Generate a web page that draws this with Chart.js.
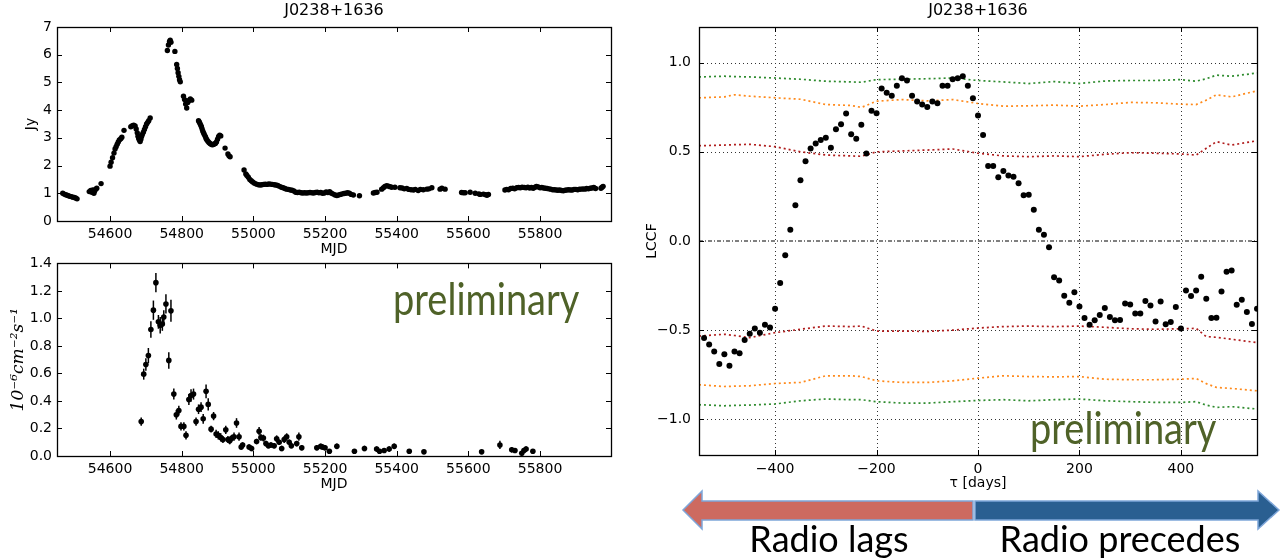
<!DOCTYPE html>
<html>
<head>
<meta charset="utf-8">
<script src="https://cdn.jsdelivr.net/npm/chart.js@4.4.0/dist/chart.umd.min.js"></script>
<style>
  body { margin: 0; width: 1281px; height: 559px; position: relative; background: #fff; overflow: hidden; }
  canvas { position: absolute; }
  .prelim { position: absolute; font-family: Lato, "Open Sans", sans-serif; font-size: 38px; line-height: 38px; color: #4f6228; white-space: nowrap; transform: scale(1, 1.15); transform-origin: left top; }
  .radio { position: absolute; font-family: Lato, "Open Sans", sans-serif; font-size: 36px; line-height: 36px; color: #000; text-align: center; white-space: nowrap; }
</style>
</head>
<body>
<canvas id="radioChart" width="640" height="258" style="left:0;top:0"></canvas>
<canvas id="gammaChart" width="640" height="250" style="left:0;top:250px"></canvas>
<canvas id="lccfChart" width="641" height="495" style="left:640px;top:0"></canvas>

<svg width="1281" height="559" style="position:absolute;left:0;top:0">
  <polygon points="683,510 702,491 702,501 973,501 973,520 702,520 702,529" fill="#cd6a60" stroke="#7ea6d9" stroke-width="1.5"/>
  <polygon points="975,501 1258,501 1258,491 1279,510 1258,529 1258,520 975,520" fill="#2a5f91" stroke="#7ea6d9" stroke-width="1.5"/>
</svg>
<div class="radio" style="left:700px;top:520px;width:258px">Radio lags</div>
<div class="radio" style="left:980px;top:520px;width:280px">Radio precedes</div>
<div class="prelim" style="left:393px;top:276px">preliminary</div>
<div class="prelim" style="left:1030px;top:405px">preliminary</div>

<script>
  // radio light curve (Jy)
  var radioMjd = [54468, 54472, 54476, 54480, 54484, 54488, 54492, 54496, 54500, 54504, 54508,
    54542, 54546, 54549, 54552, 54555, 54557, 54560, 54563, 54575,
    54600, 54603, 54607, 54611, 54614, 54617, 54620, 54623, 54626, 54630, 54633, 54639,
    54658, 54662, 54666, 54670, 54673, 54676, 54678, 54680, 54682, 54684, 54686, 54688, 54690, 54693, 54696, 54699, 54702, 54705, 54708, 54712,
    54760, 54763, 54766, 54768, 54770, 54781, 54786, 54788, 54790, 54792, 54794, 54796,
    54805, 54808, 54811, 54814, 54817, 54820, 54824, 54828,
    54847, 54849, 54851, 54853, 54855, 54857, 54859, 54861, 54863, 54866, 54868, 54870, 54873, 54876, 54879, 54882, 54885, 54888, 54891, 54894, 54897, 54900, 54903, 54906, 54909,
    54921, 54929, 54932, 54935,
    54974, 54979, 54982, 54986, 54990, 54994, 54998, 55003, 55009, 55014, 55019, 55024, 55028, 55033, 55038, 55043, 55048, 55053, 55058, 55063, 55068, 55073, 55078, 55083, 55088, 55093, 55098, 55103, 55108, 55113, 55118, 55123, 55128, 55133, 55138, 55143, 55148, 55153, 55158, 55163, 55168, 55173, 55178, 55183, 55188, 55193, 55198, 55203, 55208, 55213, 55218, 55223, 55228, 55233, 55238, 55243, 55248, 55253, 55258, 55263, 55268, 55273, 55279, 55296,
    55335, 55340, 55345, 55358, 55363, 55367, 55372, 55377, 55381, 55386, 55395, 55409, 55415, 55421, 55428, 55434, 55440, 55447, 55452, 55460, 55466, 55474, 55484, 55490, 55498, 55521, 55526, 55535,
    55581, 55586, 55591, 55605, 55619, 55629, 55633, 55642, 55648, 55652, 55656,
    55702, 55707, 55712, 55718, 55724, 55729, 55735, 55740, 55745, 55750, 55756, 55761, 55766, 55771, 55776, 55781, 55786, 55790, 55795, 55800, 55805, 55810, 55815, 55820, 55825, 55830, 55835, 55840, 55845, 55850, 55855, 55860, 55865, 55870, 55875, 55880, 55885, 55890, 55895, 55900, 55905, 55910, 55915, 55920, 55925, 55930, 55935, 55940, 55945, 55950, 55955, 55970, 55973, 55976];
  var radioJy = [1.00, 0.97, 0.95, 0.93, 0.91, 0.89, 0.88, 0.86, 0.85, 0.83, 0.80,
    1.06, 1.10, 1.04, 1.12, 1.00, 1.08, 1.15, 1.18, 1.35,
    1.98, 2.12, 2.28, 2.45, 2.60, 2.68, 2.77, 2.85, 2.92, 2.97, 3.02, 3.27,
    3.40, 3.44, 3.46, 3.43, 3.32, 3.18, 3.06, 2.98, 2.92, 2.87, 2.95, 3.05, 3.12, 3.20, 3.30, 3.40, 3.50, 3.56, 3.62, 3.72,
    6.15, 6.35, 6.48, 6.52, 6.45, 6.12, 5.65, 5.50, 5.35, 5.22, 5.10, 5.02,
    4.50, 4.38, 4.22, 4.08, 4.28, 4.35, 4.40, 4.36,
    3.62, 3.57, 3.52, 3.46, 3.40, 3.32, 3.24, 3.18, 3.12, 3.05, 2.98, 2.93, 2.88, 2.83, 2.80, 2.77, 2.75, 2.76, 2.78, 2.80, 2.85, 2.95, 3.05, 3.10, 3.07,
    2.63, 2.42, 2.35, 2.32,
    1.84, 1.70, 1.64, 1.58, 1.50, 1.45, 1.41, 1.36, 1.33, 1.31, 1.30, 1.31, 1.32, 1.33, 1.32, 1.34, 1.33, 1.32, 1.31, 1.30, 1.28, 1.25, 1.22, 1.20, 1.17, 1.15, 1.14, 1.12, 1.11, 1.08, 1.04, 1.03, 1.04, 1.02, 1.01, 1.02, 1.01, 1.02, 1.03, 1.02, 1.01, 1.03, 1.04, 1.02, 1.03, 1.00, 1.01, 1.05, 1.03, 1.06, 1.00, 0.97, 0.94, 0.92, 0.94, 0.96, 0.98, 0.99, 1.00, 1.02, 1.00, 0.96, 0.94, 0.91,
    1.01, 1.03, 1.04, 1.15, 1.20, 1.25, 1.27, 1.26, 1.24, 1.22, 1.22, 1.20, 1.19, 1.16, 1.17, 1.14, 1.13, 1.12, 1.14, 1.10, 1.14, 1.13, 1.15, 1.16, 1.20, 1.15, 1.18, 1.15,
    1.03, 1.02, 1.02, 1.04, 1.00, 0.98, 0.96, 0.97, 0.95, 0.93, 0.96,
    1.12, 1.14, 1.13, 1.17, 1.18, 1.16, 1.20, 1.21, 1.20, 1.22, 1.21, 1.20, 1.22, 1.19, 1.21, 1.18, 1.22, 1.25, 1.23, 1.20, 1.21, 1.19, 1.18, 1.17, 1.16, 1.15, 1.13, 1.13, 1.12, 1.11, 1.12, 1.10, 1.09, 1.11, 1.12, 1.13, 1.12, 1.12, 1.14, 1.14, 1.13, 1.15, 1.15, 1.16, 1.15, 1.17, 1.16, 1.18, 1.19, 1.21, 1.17, 1.18, 1.22, 1.25];

  // gamma-ray flux (1e-6 cm^-2 s^-1)
  var gammaMjd = [54687, 54694, 54700, 54707, 54714, 54721, 54728, 54735, 54740, 54746, 54750, 54756, 54764, 54770,
    54778, 54785, 54792, 54798, 54806, 54812, 54820, 54826, 54833, 54840, 54847, 54854, 54860, 54868, 54874,
    54882, 54889, 54896, 54902, 54909, 54915, 54923, 54929, 54934, 54940, 54946, 54953, 54960, 54966, 54970,
    54988, 54995, 55009, 55016, 55021, 55028, 55035, 55042, 55049, 55058, 55065, 55072, 55079, 55086, 55093,
    55100, 55106, 55121, 55127, 55135, 55177, 55188, 55193, 55200, 55212, 55233, 55282, 55310, 55344, 55352,
    55365, 55379, 55393, 55435, 55476, 55637, 55688, 55721, 55730, 55749, 55755, 55761, 55780];
  var gammaFlux = [0.25, 0.595, 0.665, 0.73, 0.92, 1.06, 1.26, 0.975, 0.95, 0.96, 1.01, 1.105, 0.695, 1.055,
    0.45, 0.30, 0.33, 0.215, 0.215, 0.15, 0.41, 0.44, 0.45, 0.25, 0.34, 0.355, 0.27, 0.47, 0.375,
    0.195, 0.29, 0.16, 0.15, 0.135, 0.12, 0.19, 0.12, 0.11, 0.13, 0.14, 0.24, 0.14, 0.065, 0.08,
    0.065, 0.055, 0.105, 0.18, 0.135, 0.13, 0.09, 0.075, 0.08, 0.075, 0.125, 0.10, 0.055, 0.12, 0.14,
    0.10, 0.075, 0.09, 0.14, 0.06, 0.06, 0.07, 0.065, 0.06, 0.035, 0.07, 0.035, 0.055, 0.05, 0.035,
    0.04, 0.05, 0.07, 0.035, 0.03, 0.03, 0.08, 0.045, 0.04, 0.02, 0.04, 0.05, 0.035];
  var gammaErr = [0.03, 0.04, 0.045, 0.055, 0.06, 0.07, 0.07, 0.05, 0.06, 0.05, 0.05, 0.07, 0.06, 0.08,
    0.04, 0.035, 0.035, 0.03, 0.03, 0.03, 0.04, 0.045, 0.04, 0.03, 0.035, 0.035, 0.035, 0.05, 0.045,
    0.025, 0.03, 0.03, 0.03, 0.03, 0.025, 0.03, 0.025, 0.025, 0.025, 0.03, 0.035, 0.03, 0.02, 0.02,
    0.02, 0.02, 0.02, 0.03, 0.025, 0.025, 0.02, 0.02, 0.02, 0.02, 0.025, 0.02, 0.02, 0.025, 0.025,
    0.02, 0.02, 0.02, 0.03, 0.02, 0.02, 0.02, 0.02, 0.02, 0.015, 0.02, 0.015, 0.02, 0.02, 0.015,
    0.015, 0.02, 0.02, 0.015, 0.015, 0.015, 0.03, 0.02, 0.015, 0.015, 0.015, 0.02, 0.015];

  // local cross-correlation
  var lccfTau = [-540, -530, -520, -510, -500, -490, -480, -470, -460, -450, -440, -430, -420, -410, -400, -390, -380, -370, -360, -350,
    -340, -330, -320, -310, -300, -290, -280, -270, -260, -250, -240, -230, -220, -210, -200, -190, -180, -170, -160, -150,
    -140, -130, -120, -110, -100, -90, -80, -70, -60, -50, -40, -30, -20, -10, 0, 10, 20, 30, 40, 50,
    60, 70, 80, 90, 100, 110, 120, 130, 140, 150, 160, 170, 180, 190, 200, 210, 220, 230, 240, 250,
    260, 270, 280, 290, 300, 310, 320, 330, 340, 350, 360, 370, 380, 390, 400, 410, 420, 430, 440, 450,
    460, 470, 480, 490, 500, 510, 520, 530, 540, 550];
  var lccfVal = [-0.544, -0.58, -0.62, -0.69, -0.635, -0.70, -0.62, -0.63, -0.555, -0.52, -0.49, -0.515, -0.47, -0.485, -0.38, -0.235, -0.08, 0.063, 0.20, 0.34,
    0.447, 0.518, 0.547, 0.566, 0.579, 0.523, 0.626, 0.655, 0.715, 0.598, 0.573, 0.652, 0.49, 0.73, 0.717, 0.855, 0.832, 0.814, 0.87, 0.912,
    0.90, 0.814, 0.782, 0.765, 0.752, 0.782, 0.773, 0.87, 0.87, 0.907, 0.912, 0.924, 0.871, 0.80, 0.704, 0.594, 0.42, 0.42, 0.357, 0.393,
    0.367, 0.36, 0.324, 0.257, 0.26, 0.175, 0.063, 0.035, -0.035, -0.203, -0.222, -0.307, -0.346, -0.287, -0.367, -0.432, -0.469, -0.445, -0.415, -0.376,
    -0.426, -0.445, -0.443, -0.35, -0.356, -0.406, -0.406, -0.337, -0.361, -0.452, -0.339, -0.467, -0.454, -0.37, -0.49, -0.277, -0.309, -0.277, -0.201, -0.324,
    -0.432, -0.43, -0.283, -0.173, -0.166, -0.357, -0.33, -0.398, -0.466, -0.38];

  // significance levels
  var sigTau = [-550, -500, -480, -450, -400, -350, -300, -250, -230, -200, -150, -100, -50, 0, 50, 100, 150, 200, 250, 300, 350, 400, 430, 450, 470, 500, 550];
  var greenUp = [0.92, 0.924, 0.922, 0.92, 0.914, 0.907, 0.896, 0.892, 0.89, 0.905, 0.907, 0.91, 0.914, 0.90, 0.892, 0.883, 0.894, 0.883, 0.897, 0.90, 0.90, 0.905, 0.896, 0.91, 0.93, 0.924, 0.942];
  var orangeUp = [0.803, 0.808, 0.82, 0.812, 0.803, 0.795, 0.765, 0.76, 0.749, 0.784, 0.793, 0.786, 0.793, 0.771, 0.756, 0.758, 0.762, 0.756, 0.765, 0.777, 0.775, 0.767, 0.765, 0.79, 0.82, 0.808, 0.842];
  var redUp = [0.534, 0.538, 0.54, 0.542, 0.529, 0.50, 0.482, 0.477, 0.475, 0.50, 0.505, 0.51, 0.516, 0.492, 0.477, 0.473, 0.477, 0.473, 0.486, 0.495, 0.492, 0.488, 0.482, 0.52, 0.557, 0.538, 0.562];
  var redLow = [-0.533, -0.523, -0.53, -0.542, -0.514, -0.495, -0.477, -0.48, -0.477, -0.505, -0.505, -0.507, -0.50, -0.488, -0.48, -0.477, -0.48, -0.477, -0.484, -0.492, -0.495, -0.492, -0.49, -0.536, -0.54, -0.551, -0.57];
  var orangeLow = [-0.806, -0.816, -0.814, -0.812, -0.799, -0.793, -0.756, -0.756, -0.76, -0.784, -0.793, -0.793, -0.784, -0.769, -0.756, -0.76, -0.762, -0.76, -0.775, -0.778, -0.778, -0.775, -0.771, -0.80, -0.821, -0.827, -0.84];
  var greenLow = [-0.918, -0.924, -0.922, -0.92, -0.914, -0.896, -0.886, -0.89, -0.89, -0.901, -0.909, -0.909, -0.901, -0.894, -0.89, -0.896, -0.89, -0.886, -0.896, -0.901, -0.905, -0.905, -0.901, -0.92, -0.933, -0.929, -0.942];

  // tick labels
  var mjdTicks = [54600, 54800, 55000, 55200, 55400, 55600, 55800];
  var jyTicks = [0, 1, 2, 3, 4, 5, 6, 7];
  var fluxTicks = [0, 0.2, 0.4, 0.6, 0.8, 1.0, 1.2, 1.4];
  var tauTicks = [-400, -200, 0, 200, 400];
  var lccfTicks = [-1.0, -0.5, 0.0, 0.5, 1.0];

  Chart.defaults.font.family = "'DejaVu Sans', sans-serif";
  Chart.defaults.font.size = 14;
  Chart.defaults.color = "#000";
  Chart.defaults.animation = false;

  function pts(xs, ys) {
    return xs.map(function (x, i) { return { x: x, y: ys[i] }; });
  }
  function fixTicks(list) {
    return function (scale) { scale.ticks = list.map(function (v) { return { value: v }; }); };
  }
  function minus(s) { return String(s).replace("-", "\u2212"); }

  // matplotlib-like frame with inward ticks, optional dotted grid
  var frame = {
    id: "frame",
    beforeDatasetsDraw: function (chart, args, opts) {
      if (!opts.grid) return;
      var ctx = chart.ctx, a = chart.chartArea, x = chart.scales.x, y = chart.scales.y;
      ctx.save();
      ctx.strokeStyle = "#333";
      ctx.lineWidth = 1;
      ctx.setLineDash([1, 3]);
      x.ticks.forEach(function (t) {
        var px = Math.round(x.getPixelForValue(t.value)) + 0.5;
        ctx.beginPath(); ctx.moveTo(px, a.top); ctx.lineTo(px, a.bottom); ctx.stroke();
      });
      y.ticks.forEach(function (t) {
        if (t.value === 0) return;
        var py = Math.round(y.getPixelForValue(t.value)) + 0.5;
        ctx.beginPath(); ctx.moveTo(a.left, py); ctx.lineTo(a.right, py); ctx.stroke();
      });
      ctx.restore();
    },
    afterDatasetsDraw: function (chart) {
      var ctx = chart.ctx, a = chart.chartArea, x = chart.scales.x, y = chart.scales.y;
      ctx.save();
      ctx.strokeStyle = "#000";
      ctx.lineWidth = 1;
      ctx.beginPath();
      x.ticks.forEach(function (t) {
        var px = Math.round(x.getPixelForValue(t.value)) + 0.5;
        ctx.moveTo(px, a.bottom); ctx.lineTo(px, a.bottom - 5);
        ctx.moveTo(px, a.top); ctx.lineTo(px, a.top + 5);
      });
      y.ticks.forEach(function (t) {
        var py = Math.round(y.getPixelForValue(t.value)) + 0.5;
        ctx.moveTo(a.left, py); ctx.lineTo(a.left + 5, py);
        ctx.moveTo(a.right, py); ctx.lineTo(a.right - 5, py);
      });
      ctx.stroke();
      ctx.lineWidth = 1.3;
      ctx.strokeRect(Math.round(a.left) + 0.5, Math.round(a.top) + 0.5, Math.round(a.width), Math.round(a.height));
      ctx.restore();
    }
  };

  var errorBars = {
    id: "errorBars",
    beforeDatasetsDraw: function (chart, args, opts) {
      if (!opts.err) return;
      var ctx = chart.ctx, x = chart.scales.x, y = chart.scales.y;
      ctx.save();
      ctx.strokeStyle = "#000";
      ctx.lineWidth = 1.5;
      opts.err.forEach(function (e, i) {
        var px = x.getPixelForValue(gammaMjd[i]);
        ctx.beginPath();
        ctx.moveTo(px, y.getPixelForValue(gammaFlux[i] - e));
        ctx.lineTo(px, y.getPixelForValue(gammaFlux[i] + e));
        ctx.stroke();
      });
      ctx.restore();
    }
  };

  var mjdAxis = function (height, pad) {
    return {
      type: "linear", min: 54452, max: 55998,
      afterBuildTicks: fixTicks(mjdTicks),
      afterFit: function (s) { s.height = height; },
      grid: { display: false, drawTicks: false }, border: { display: false },
      ticks: { padding: 5, maxRotation: 0, callback: function (v) { return String(v); } },
      title: { display: true, text: "MJD", padding: { top: 0, bottom: pad } }
    };
  };

  new Chart(document.getElementById("radioChart"), {
    type: "scatter",
    data: { datasets: [{ data: pts(radioMjd, radioJy), backgroundColor: "#000", borderWidth: 0, pointRadius: 2.7 }] },
    options: {
      responsive: false,
      layout: { padding: { left: 0, right: 29, top: 0, bottom: 0 } },
      plugins: {
        legend: { display: false }, tooltip: { enabled: false },
        title: { display: true, fullSize: false, text: "J0238+1636", font: { size: 16, weight: "normal" }, padding: { top: 1.4, bottom: 6.4 } }
      },
      scales: {
        x: mjdAxis(37, 0),
        y: {
          min: 0, max: 7,
          afterBuildTicks: fixTicks(jyTicks),
          afterFit: function (s) { s.width = 57; },
          grid: { display: false, drawTicks: false }, border: { display: false },
          ticks: { padding: 5 },
          title: { display: true, text: "Jy", padding: { top: 23, bottom: 0 } }
        }
      }
    },
    plugins: [frame]
  });

  new Chart(document.getElementById("gammaChart"), {
    type: "scatter",
    data: { datasets: [{ data: pts(gammaMjd, gammaFlux), backgroundColor: "#000", borderWidth: 0, pointRadius: 2.8 }] },
    options: {
      responsive: false,
      layout: { padding: { left: 0, right: 29, top: 11, bottom: 0 } },
      plugins: {
        legend: { display: false }, tooltip: { enabled: false },
        errorBars: { err: gammaErr }
      },
      scales: {
        x: mjdAxis(44, 7),
        y: {
          min: 0, max: 1.4,
          afterBuildTicks: fixTicks(fluxTicks),
          afterFit: function (s) { s.width = 57; },
          grid: { display: false, drawTicks: false }, border: { display: false },
          ticks: { padding: 5, callback: function (v) { return v.toFixed(1); } },
          title: {
            display: true, text: "10\u207B\u2076cm\u207B\u00B2s\u207B\u00B9",
            font: { family: "'DejaVu Serif', serif", style: "italic", size: 17 },
            padding: { top: 8, bottom: 0 }
          }
        }
      }
    },
    plugins: [frame, errorBars]
  });

  function sigLine(ys, color) {
    return {
      data: pts(sigTau, ys), showLine: true, borderColor: color, borderWidth: 1.7,
      borderDash: [2, 3], pointRadius: 0, tension: 0
    };
  }

  new Chart(document.getElementById("lccfChart"), {
    type: "scatter",
    data: {
      datasets: [
        { data: pts(lccfTau, lccfVal), backgroundColor: "#000", borderWidth: 0, pointRadius: 3 },
        sigLine(greenUp, "#2e8b2e"),
        sigLine(orangeUp, "#ff8a1c"),
        sigLine(redUp, "#b01c1c"),
        sigLine(redLow, "#b01c1c"),
        sigLine(orangeLow, "#ff8a1c"),
        sigLine(greenLow, "#2e8b2e"),
        { data: pts([-550, 550], [0, 0]), showLine: true, borderColor: "#000", borderWidth: 1, borderDash: [4, 2, 1, 2], pointRadius: 0 }
      ]
    },
    options: {
      responsive: false,
      layout: { padding: { left: 0, right: 24, top: 0, bottom: 0 } },
      plugins: {
        legend: { display: false }, tooltip: { enabled: false },
        title: { display: true, fullSize: false, text: "J0238+1636", font: { size: 16, weight: "normal" }, padding: { top: 1.4, bottom: 6.4 } },
        frame: { grid: true }
      },
      scales: {
        x: {
          type: "linear", min: -550, max: 550,
          afterBuildTicks: fixTicks(tauTicks),
          afterFit: function (s) { s.height = 40; },
          grid: { display: false, drawTicks: false }, border: { display: false },
          ticks: { padding: 6, maxRotation: 0, callback: function (v) { return minus(v); } },
          title: { display: true, text: "\u03C4 [days]", padding: { top: 0, bottom: 3 } }
        },
        y: {
          min: -1.2, max: 1.2,
          afterBuildTicks: fixTicks(lccfTicks),
          afterFit: function (s) { s.width = 59; },
          grid: { display: false, drawTicks: false }, border: { display: false },
          ticks: { padding: 8, callback: function (v) { return minus(v.toFixed(1)); } },
          title: { display: true, text: "LCCF", padding: { top: 4, bottom: 0 } }
        }
      }
    },
    plugins: [frame]
  });
</script>
</body>
</html>
